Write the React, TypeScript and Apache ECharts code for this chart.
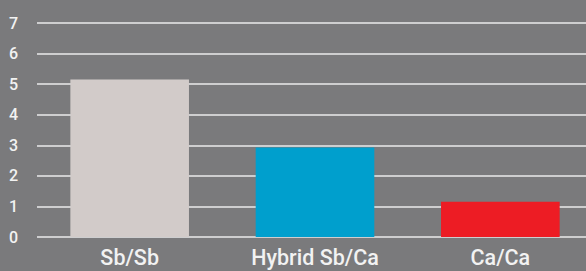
import React, { useEffect, useRef } from "react";
import * as echarts from "echarts";

const categories = ["Sb/Sb", "Hybrid Sb/Ca", "Ca/Ca"];
const values = [5.15, 2.93, 1.15];
const barColors = ["#d2cbc9", "#009fcd", "#ed1c24"];

export default function App() {
  const ref = useRef<HTMLDivElement>(null);
  useEffect(() => {
    if (!ref.current) return;
    const chart = echarts.init(ref.current, null, { renderer: "svg" });
    chart.setOption({
      animation: false,
      backgroundColor: "#7a7a7c",
      grid: { left: 37, top: 23, bottom: 34, right: 7 },
      xAxis: {
        type: "category",
        data: categories,
        axisLine: { show: false },
        axisTick: { show: false },
        axisLabel: {
          color: "#f2f2f2",
          fontFamily: "Roboto",
          fontWeight: 500,
          fontSize: 21.5,
          margin: 9,
        },
      },
      yAxis: {
        type: "value",
        min: 0,
        max: 7,
        interval: 1,
        axisLine: { show: false },
        axisTick: { show: false },
        splitLine: { lineStyle: { color: "#ebebeb", width: 1.5 } },
        axisLabel: {
          color: "#f2f2f2",
          fontFamily: "Roboto",
          fontWeight: 500,
          fontSize: 16,
          margin: 19,
        },
      },
      series: [
        {
          type: "bar",
          barWidth: "64%",
          data: values.map((v, i) => ({ value: v, itemStyle: { color: barColors[i] } })),
        },
      ],
    });
    return () => chart.dispose();
  }, []);
  return <div ref={ref} style={{ width: 600, height: 271, position: "fixed", left: 0, top: 0 }} />;
}
